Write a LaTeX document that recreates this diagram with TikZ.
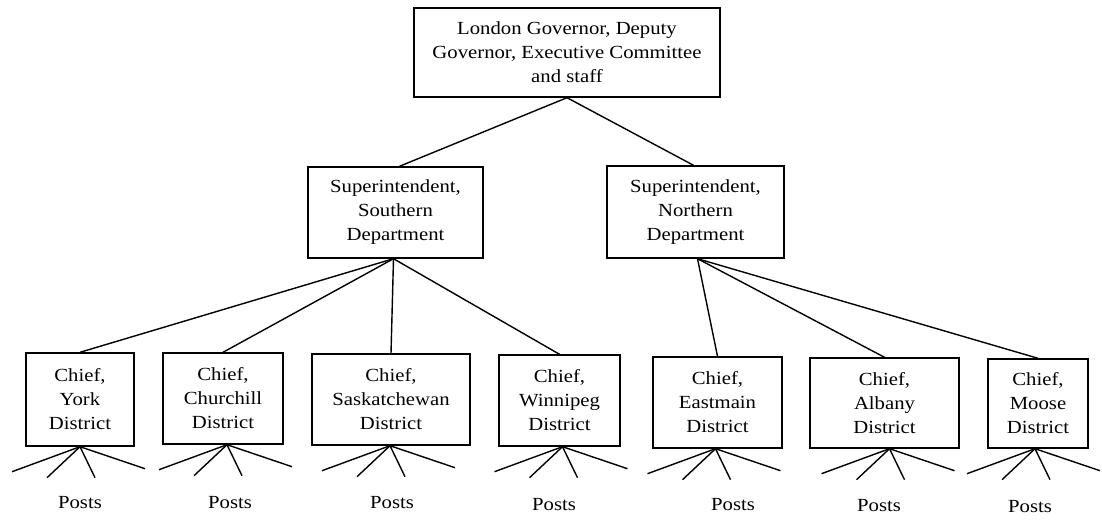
\documentclass[tikz,border=0pt]{standalone}
\usepackage{fontspec}
\setmainfont{Liberation Serif}[FakeStretch=1.12]
\begin{document}
\begin{tikzpicture}[x=1pt,y=-1pt,
  box/.style={draw, line width=1.4pt, align=center, inner sep=0pt, font=\fontsize{18.5}{24}\selectfont},
  conn/.style={line width=1.4pt},
  posts/.style={inner sep=0pt, font=\fontsize{18.5}{24}\selectfont}]
\useasboundingbox (0,0) rectangle (1102,519);
% top
\node[box, minimum width=306pt, minimum height=89pt] (gov) at (567,52.5) {London Governor, Deputy\\Governor, Executive Committee\\and staff};
% departments
\node[box, minimum width=175pt, minimum height=91pt] (south) at (395.5,212.5) {Superintendent,\\Southern\\Department};
\node[box, minimum width=177pt, minimum height=92pt] (north) at (695.5,212) {Superintendent,\\Northern\\Department};
% districts
\node[box, minimum width=108pt, minimum height=93pt] (york) at (80,399.5) {Chief,\\York\\District};
\node[box, minimum width=120pt, minimum height=91pt] (church) at (223,398.5) {Chief,\\Churchill\\District};
\node[box, minimum width=158pt, minimum height=91pt] (sask) at (391,399.5) {Chief,\\Saskatchewan\\District};
\node[box, minimum width=121pt, minimum height=91pt] (winn) at (559.5,400.5) {Chief,\\Winnipeg\\District};
\node[box, minimum width=129pt, minimum height=91pt] (east) at (717.5,402.5) {Chief,\\Eastmain\\District};
\node[box, minimum width=149pt, minimum height=90pt] (alb) at (884.5,403) {Chief,\\Albany\\District};
\node[box, minimum width=100pt, minimum height=89pt] (moose) at (1038,403.5) {Chief,\\Moose\\District};
% connectors
\draw[conn] (gov.south) -- ([xshift=4pt]south.north);
\draw[conn] (gov.south) -- ([xshift=-2pt]north.north);
\foreach \c in {york,church,sask,winn} {
  \draw[conn] ([xshift=-2pt]south.south) -- (\c.north);
}
\foreach \c in {east,alb,moose} {
  \draw[conn] ([xshift=2pt]north.south) -- (\c.north);
}
% fans to posts
\foreach \n/\dx in {york/0, church/4, sask/-1, winn/3, east/-2, alb/5, moose/-3} {
  \draw[conn] ([xshift=\dx pt]\n.south) -- ++(-68,25) coordinate (\n-a);
  \draw[conn] ([xshift=\dx pt]\n.south) -- ++(-33,31) coordinate (\n-b);
  \draw[conn] ([xshift=\dx pt]\n.south) -- ++(15,31) coordinate (\n-c);
  \draw[conn] ([xshift=\dx pt]\n.south) -- ++(65,22) coordinate (\n-d);
}
% posts labels
\node[posts] (p-york) at (80,503) {Posts};
\node[posts] (p-church) at (230,503) {Posts};
\node[posts] (p-sask) at (392,503) {Posts};
\node[posts] (p-winn) at (554,505) {Posts};
\node[posts] (p-east) at (733,505) {Posts};
\node[posts] (p-alb) at (879,506) {Posts};
\node[posts] (p-moose) at (1030,507) {Posts};
\end{tikzpicture}
\end{document}
